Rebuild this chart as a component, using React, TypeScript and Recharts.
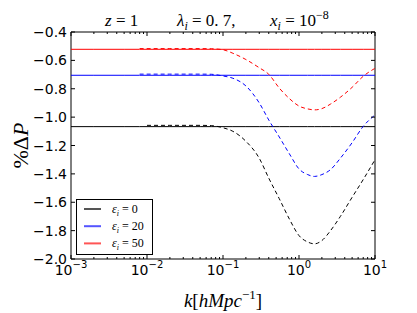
import React from 'react';
import { LineChart, Line, XAxis, YAxis, ReferenceArea } from 'recharts';

// k values in h/Mpc, shared by every series
const kValues = [0.001, 0.002, 0.005, 0.008, 0.01, 0.02, 0.05, 0.07, 0.1, 0.135, 0.2, 0.3, 0.4, 0.55, 0.75, 1.0, 1.3, 1.6, 2.0, 2.6, 3.5, 5.0, 7.0, 10];

// solid (constant) levels for eps = 0, 20, 50
const baselines = [-1.067, -0.705, -0.522];

// dashed curves
const eps0Dashed = [null, null, null, null, -1.058, -1.058, -1.058, -1.06, -1.075, -1.1, -1.17, -1.29, -1.43, -1.575, -1.72, -1.835, -1.88, -1.893, -1.87, -1.8, -1.7, -1.565, -1.44, -1.3];
const eps20Dashed = [null, null, null, -0.697, -0.697, -0.697, -0.697, -0.698, -0.71, -0.726, -0.78, -0.9, -1.02, -1.14, -1.26, -1.365, -1.405, -1.418, -1.405, -1.37, -1.29, -1.18, -1.065, -0.985];
const eps50Dashed = [null, null, null, -0.517, -0.517, -0.517, -0.517, -0.518, -0.525, -0.55, -0.594, -0.652, -0.698, -0.795, -0.87, -0.922, -0.942, -0.949, -0.94, -0.908, -0.86, -0.79, -0.712, -0.656];

const seriesNames = ['0', '20', '50'];
const seriesColors = ['#000000', '#0000ff', '#ff0000'];
const legendColors = ['#555555', '#5555ff', '#ff5555'];

const majorTicks = [0.001, 0.01, 0.1, 1, 10];
const minorTicks = [0.001, 0.01, 0.1, 1].flatMap(d => [2, 3, 4, 5, 6, 7, 8, 9].map(m => +(d * m).toPrecision(3)));
const yTicks = [-2.0, -1.8, -1.6, -1.4, -1.2, -1.0, -0.8, -0.6, -0.4];

const data = kValues.map((k, i) => ({
  k,
  s0: baselines[0],
  s1: baselines[1],
  s2: baselines[2],
  d0: eps0Dashed[i],
  d1: eps20Dashed[i],
  d2: eps50Dashed[i],
}));

const W = 417;
const H = 313;
const PLOT_TOP = 32;
const PLOT_LEFT = 71;
const PLOT_RIGHT = 375;
const PLOT_BOTTOM = 259;
const SANS = 'DejaVu Sans';
const SERIF = 'Liberation Serif';

const XTick = (props: any) => {
  const { x, payload } = props;
  const v = payload.value;
  const major = majorTicks.includes(v);
  const len = major ? 4 : 2;
  const exp = Math.round(Math.log10(v));
  return (
    <g>
      <line x1={x} x2={x} y1={PLOT_BOTTOM} y2={PLOT_BOTTOM - len} stroke="#000" />
      <line x1={x} x2={x} y1={PLOT_TOP} y2={PLOT_TOP + len} stroke="#000" />
      {major && (
        <text x={x} y={PLOT_BOTTOM + 16} textAnchor="middle" fontFamily={SANS} fontSize={14} fill="#000">
          10<tspan dy={-7} fontSize={10}>{String(exp).replace('-', '\u2212')}</tspan>
        </text>
      )}
    </g>
  );
};

const YTick = (props: any) => {
  const { y, payload } = props;
  const v = payload.value;
  return (
    <g>
      <line x1={PLOT_LEFT} x2={PLOT_LEFT + 4} y1={y} y2={y} stroke="#000" />
      <line x1={PLOT_RIGHT} x2={PLOT_RIGHT - 4} y1={y} y2={y} stroke="#000" />
      <text x={PLOT_LEFT - 4} y={y} dy="0.36em" textAnchor="end" fontFamily={SANS} fontSize={14} fill="#000">
        {v.toFixed(1).replace('-', '\u2212')}
      </text>
    </g>
  );
};

const Title = () => (
  <g fontFamily={SERIF} fontSize={17} fill="#000">
    <text x={105} y={26}>
      <tspan fontStyle="italic">z</tspan>
      <tspan> = 1</tspan>
    </text>
    <text x={177} y={26}>
      <tspan fontStyle="italic">λ</tspan>
      <tspan fontStyle="italic" fontSize={12} dy={4}>i</tspan>
      <tspan dy={-4}> = 0. 7,</tspan>
    </text>
    <text x={270} y={26}>
      <tspan fontStyle="italic">x</tspan>
      <tspan fontStyle="italic" fontSize={12} dy={4}>i</tspan>
      <tspan dy={-4}> = 10</tspan>
      <tspan fontSize={12} dy={-7}>{'\u22128'}</tspan>
    </text>
  </g>
);

const AxisTitles = () => (
  <g fontFamily={SERIF} fill="#000">
    <text x={(PLOT_LEFT + PLOT_RIGHT) / 2} y={307} textAnchor="middle" fontSize={19}>
      <tspan fontStyle="italic">k</tspan>
      <tspan>[</tspan>
      <tspan fontStyle="italic">hMpc</tspan>
      <tspan fontSize={13} dy={-8}>{'\u22121'}</tspan>
      <tspan dy={8}>]</tspan>
    </text>
    <text x={28} y={(PLOT_TOP + PLOT_BOTTOM) / 2} textAnchor="middle" fontSize={22}
      transform={`rotate(-90, 28, ${(PLOT_TOP + PLOT_BOTTOM) / 2})`}>
      <tspan>%Δ</tspan>
      <tspan fontStyle="italic">P</tspan>
    </text>
  </g>
);

const LegendBox = () => (
  <g>
    <rect x={76.5} y={199.5} width={76} height={55} fill="#fff" stroke="#000" />
    {seriesNames.map((n, i) => (
      <g key={n}>
        <line x1={84} x2={101} y1={209 + i * 17.2} y2={209 + i * 17.2} stroke={legendColors[i]} strokeWidth={2} />
        <text x={112} y={213 + i * 17.2} fontFamily={SERIF} fontSize={12} fill="#000">
          <tspan fontStyle="italic">ε</tspan>
          <tspan fontStyle="italic" fontSize={8} dy={3}>i</tspan>
          <tspan dy={-3}> = {n}</tspan>
        </text>
      </g>
    ))}
  </g>
);

export default function App() {
  return (
    <div style={{ position: 'absolute', left: 0, top: 0, width: W, height: H, background: '#fff' }}>
      <LineChart width={W} height={H} data={data} margin={{ top: PLOT_TOP, right: W - PLOT_RIGHT, bottom: 0, left: 0 }}>
        <XAxis
          dataKey="k"
          type="number"
          scale="log"
          domain={[0.001, 10]}
          allowDataOverflow
          ticks={[...majorTicks, ...minorTicks].sort((a, b) => a - b)}
          interval={0}
          tick={<XTick />}
          tickLine={false}
          axisLine={false}
          height={H - PLOT_BOTTOM}
        />
        <YAxis
          type="number"
          domain={[-2.0, -0.4]}
          ticks={yTicks}
          interval={0}
          tick={<YTick />}
          tickLine={false}
          axisLine={false}
          width={PLOT_LEFT}
        />
        <ReferenceArea x1={0.001} x2={10} y1={-2.0} y2={-0.4} fill="none" stroke="#000" strokeWidth={1} fillOpacity={0} />
        {[0, 1, 2].map(i => (
          <Line key={'s' + i} dataKey={'s' + i} stroke={seriesColors[i]} strokeWidth={1} dot={false}
            activeDot={false} isAnimationActive={false} type="linear" />
        ))}
        {[0, 1, 2].map(i => (
          <Line key={'d' + i} dataKey={'d' + i} stroke={seriesColors[i]} strokeWidth={1} dot={false}
            strokeDasharray="4 3" activeDot={false} isAnimationActive={false} type="monotone" />
        ))}
        <Title />
        <AxisTitles />
        <LegendBox />
      </LineChart>
    </div>
  );
}
